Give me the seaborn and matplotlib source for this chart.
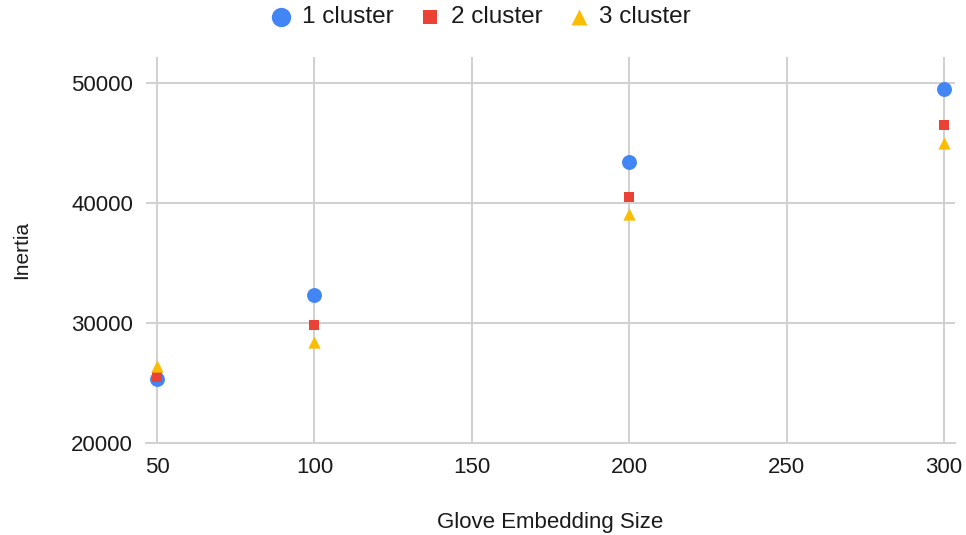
import matplotlib
matplotlib.use("Agg")
import matplotlib.pyplot as plt
import numpy as np
import pandas as pd
import seaborn as sns

# data
embedding_sizes = [50, 100, 200, 300]
inertia_1 = [25300, 32300, 43400, 49500]
inertia_2 = [25500, 29800, 40500, 46500]
inertia_3 = [26400, 28400, 39100, 45000]
series_names = ["1 cluster", "2 cluster", "3 cluster"]
y_ticks = [20000, 30000, 40000, 50000]
x_ticks = [50, 100, 150, 200, 250, 300]

COLORS = {"1 cluster": "#4285F4", "2 cluster": "#EA4335", "3 cluster": "#FBBC04"}
MARKERS = {"1 cluster": "o", "2 cluster": "s", "3 cluster": "^"}
SIZES = {"1 cluster": 115, "2 cluster": 58, "3 cluster": 78}

df = pd.concat(
    [
        pd.DataFrame({"size": embedding_sizes, "inertia": vals, "series": name})
        for name, vals in zip(series_names, [inertia_1, inertia_2, inertia_3])
    ],
    ignore_index=True,
)

sns.set_style("white")
plt.rcParams["font.family"] = ["Liberation Sans", "DejaVu Sans"]

fig = plt.figure(figsize=(9.66, 5.35), dpi=100)
ax = fig.add_axes([0.1511, 0.172, 0.8375, 0.7215])

grid_c = "#d0d0d0"
ax.set_axisbelow(True)
ax.grid(True, color=grid_c, linewidth=1.4)

for name in series_names:
    sub = df[df["series"] == name]
    sns.scatterplot(data=sub, x="size", y="inertia", ax=ax, color=COLORS[name],
                    marker=MARKERS[name], s=SIZES[name], linewidth=0,
                    label=name, zorder=3)

ax.set_xlim(46.5, 303.5)
ax.set_ylim(20000, 52170)
ax.set_xticks(x_ticks)
ax.set_yticks(y_ticks)
ax.tick_params(axis="both", length=0, labelsize=16, colors="#1a1a1a")
ax.tick_params(axis="y", pad=9.4)
ax.tick_params(axis="x", pad=10)

for side in ["top", "right", "left"]:
    ax.spines[side].set_visible(False)
ax.spines["bottom"].set_color(grid_c)
ax.spines["bottom"].set_linewidth(1.4)

ax.set_xlabel("Glove Embedding Size", fontsize=16, color="#1a1a1a")
ax.set_ylabel("Inertia", fontsize=15, color="#1a1a1a")
ax.xaxis.set_label_coords(0.5, -0.178)
ax.yaxis.set_label_coords(-0.142, 0.5)

handles, labels = ax.get_legend_handles_labels()
ax.legend_.remove()
leg = fig.legend(handles, labels, loc="center", bbox_to_anchor=(0.497, 0.968),
                 ncol=3, frameon=False, fontsize=17.5, handlelength=1.0,
                 handletextpad=0.35, columnspacing=1.0, markerscale=1.3)
for t in leg.get_texts():
    t.set_color("#1a1a1a")

fig.savefig("out.png", dpi=100)
